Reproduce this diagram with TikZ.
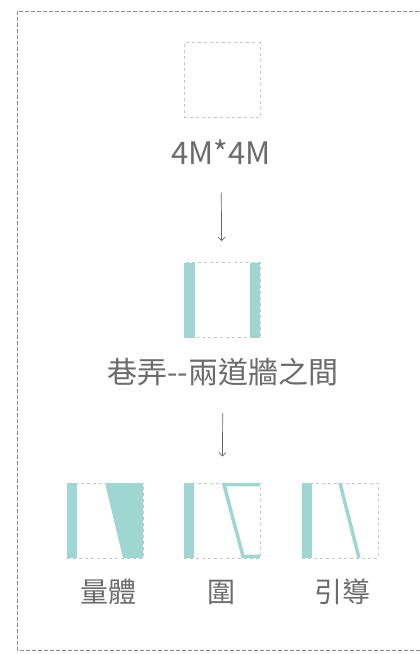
\documentclass[tikz,border=0pt]{standalone}
\usepackage{fontspec}
\newfontfamily\cjk{Noto Sans CJK TC}
\usetikzlibrary{positioning}
\usetikzlibrary{arrows.meta}
\definecolor{wallteal}{RGB}{160,214,210}
\tikzset{
  plot/.style={draw=black!22, dash pattern=on 3pt off 3pt, line width=0.9pt, minimum width=76pt, minimum height=75pt, inner sep=0pt},
  wall/.style={fill=wallteal, draw=none},
  trace/.style={draw=wallteal, line width=3.5pt},
  caption/.style={text=black!58, inner sep=0pt, font=\cjk\fontsize{28}{30}\selectfont},
  flow/.style={-{Straight Barb[length=3.5pt, width=7pt]}, draw=black!60, line width=0.7pt}
}
\begin{document}
\begin{tikzpicture}[x=1pt, y=-1pt]
\useasboundingbox (0,0) rectangle (420,654);
\draw[black!45, dash pattern=on 4pt off 2pt, line width=1pt] (425,11) -- (17,11) -- (17,650) -- (425,650);

\node[plot] (empty) at (222,80) {};
\node[caption, font=\cjk\fontsize{31}{33}\selectfont] (size) at (221,152) {4M*4M};

\node[plot] (alley) at (222,300) {};
\fill[wall] (184,262.5) rectangle (195,337.5);
\fill[wall] (250,262.5) rectangle (260,337.5);
\node[caption, font=\cjk\fontsize{30}{32}\selectfont] (alleytxt) at (223,372) {巷弄--兩道牆之間};

\node[plot] (mass) at (105,520.5) {};
\fill[wall] (67,483) rectangle (77,558);
\fill[wall] (105,483) -- (143,483) -- (143,558) -- (123,558) -- cycle;

\node[plot] (ring) at (222,520.5) {};
\fill[wall] (184,483) rectangle (194,558);
\draw[trace] (260,484.7) -- (224,484.7) -- (243,556.3) -- (260,556.3);

\node[plot] (guide) at (340,520.5) {};
\fill[wall] (302,483) rectangle (312,558);
\draw[trace] (340,483) -- (359,558);

\node[caption] (masstxt) at (108,592) {量體};
\node[caption] (ringtxt) at (221,592) {圍};
\node[caption] (guidetxt) at (342,592) {引導};

\draw[flow, shorten <=28pt, shorten >=21pt] (size) -- (alley);
\draw[flow, shorten <=27pt, shorten >=26pt] (alleytxt) -- (ring);
\end{tikzpicture}
\end{document}
